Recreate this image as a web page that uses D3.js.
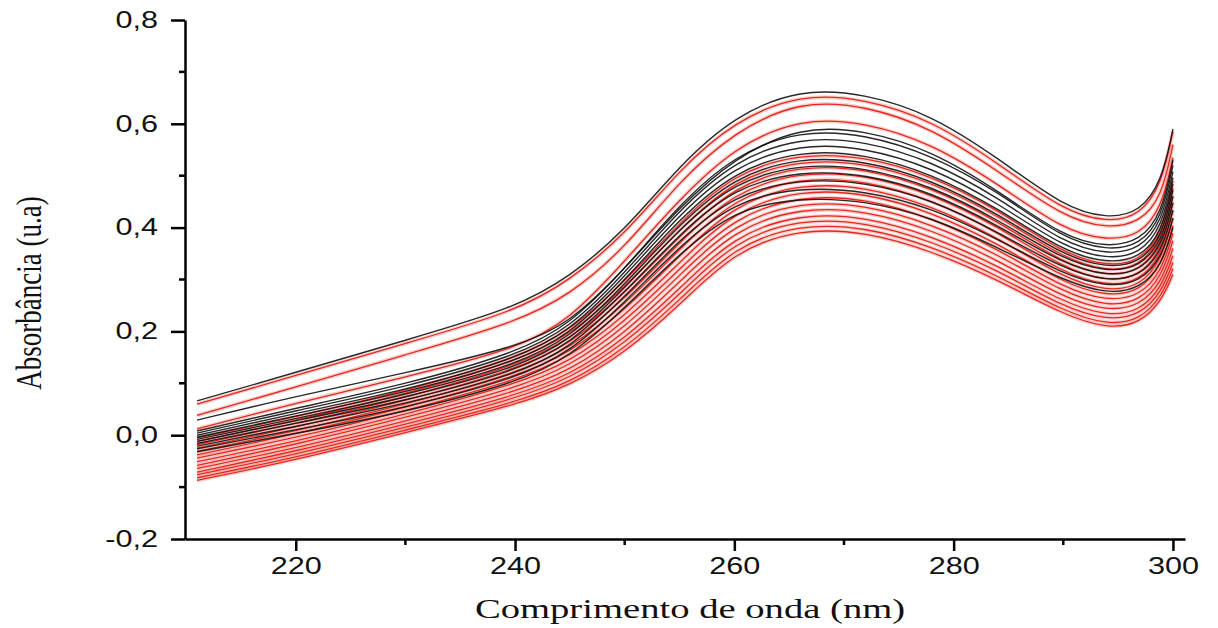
<!DOCTYPE html>
<html>
<head>
<meta charset="utf-8">
<script src="https://cdn.jsdelivr.net/npm/d3@7"></script>
<style>
  body { margin: 0; background: #fff; }
  svg { display: block; }
</style>
</head>
<body>
<div id="chart"></div>
<script>
const wavelengths = [211, 220, 230, 240, 245, 250, 255, 260, 266, 272, 278, 284, 290, 294, 297, 299, 300];

// the few spectra that sit above the main bundle
const upperBlack = [
  [0.066, 0.121, 0.183, 0.245, 0.305, 0.394, 0.520, 0.615, 0.668, 0.658, 0.617, 0.535, 0.440, 0.417, 0.430, 0.490, 0.590],
  [0.029, 0.075, 0.120, 0.169, 0.215, 0.320, 0.440, 0.535, 0.595, 0.588, 0.548, 0.472, 0.382, 0.362, 0.374, 0.428, 0.530]
];
const upperRed = [
  [0.060, 0.115, 0.177, 0.238, 0.298, 0.386, 0.512, 0.605, 0.658, 0.648, 0.607, 0.525, 0.432, 0.410, 0.423, 0.485, 0.585],
  [0.038, 0.093, 0.155, 0.217, 0.270, 0.360, 0.490, 0.585, 0.645, 0.635, 0.592, 0.510, 0.420, 0.398, 0.410, 0.460, 0.560],
  [0.012, 0.062, 0.112, 0.165, 0.222, 0.335, 0.455, 0.555, 0.611, 0.603, 0.562, 0.485, 0.395, 0.375, 0.385, 0.440, 0.535]
];

// main bundle, black spectra
const blackSpectra = [
  [0.008, 0.052, 0.098, 0.158, 0.212, 0.320, 0.445, 0.540, 0.588, 0.580, 0.540, 0.470, 0.378, 0.356, 0.366, 0.420, 0.520],
  [0.004, 0.047, 0.093, 0.152, 0.206, 0.312, 0.435, 0.529, 0.575, 0.567, 0.528, 0.459, 0.370, 0.348, 0.358, 0.411, 0.508],
  [0.000, 0.042, 0.087, 0.146, 0.200, 0.305, 0.426, 0.519, 0.562, 0.554, 0.516, 0.448, 0.362, 0.339, 0.349, 0.402, 0.496],
  [-0.004, 0.037, 0.082, 0.141, 0.193, 0.298, 0.417, 0.509, 0.549, 0.542, 0.504, 0.438, 0.354, 0.331, 0.341, 0.392, 0.484],
  [-0.008, 0.032, 0.077, 0.135, 0.187, 0.290, 0.407, 0.498, 0.536, 0.529, 0.492, 0.427, 0.346, 0.322, 0.332, 0.383, 0.472],
  [-0.012, 0.028, 0.072, 0.129, 0.181, 0.283, 0.398, 0.488, 0.523, 0.516, 0.480, 0.416, 0.338, 0.314, 0.324, 0.374, 0.460],
  [-0.016, 0.023, 0.066, 0.123, 0.175, 0.275, 0.388, 0.477, 0.510, 0.503, 0.468, 0.405, 0.330, 0.306, 0.316, 0.365, 0.448],
  [-0.021, 0.017, 0.060, 0.116, 0.167, 0.266, 0.377, 0.464, 0.494, 0.488, 0.454, 0.392, 0.320, 0.296, 0.306, 0.354, 0.434],
  [-0.026, 0.010, 0.053, 0.109, 0.159, 0.256, 0.364, 0.451, 0.478, 0.471, 0.438, 0.378, 0.310, 0.285, 0.295, 0.342, 0.418],
  [-0.032, 0.003, 0.045, 0.100, 0.150, 0.245, 0.350, 0.435, 0.458, 0.452, 0.420, 0.362, 0.298, 0.272, 0.282, 0.328, 0.400]
];

// main bundle, red spectra
const redSpectra = [
  [-0.005, 0.035, 0.085, 0.148, 0.200, 0.295, 0.410, 0.505, 0.543, 0.537, 0.500, 0.435, 0.350, 0.325, 0.335, 0.390, 0.490],
  [-0.012, 0.028, 0.079, 0.141, 0.192, 0.284, 0.397, 0.493, 0.531, 0.525, 0.488, 0.424, 0.341, 0.315, 0.325, 0.380, 0.476],
  [-0.018, 0.022, 0.072, 0.134, 0.183, 0.273, 0.384, 0.481, 0.520, 0.514, 0.477, 0.413, 0.331, 0.306, 0.316, 0.369, 0.461],
  [-0.025, 0.015, 0.066, 0.126, 0.175, 0.262, 0.372, 0.469, 0.508, 0.502, 0.465, 0.403, 0.322, 0.296, 0.306, 0.359, 0.447],
  [-0.031, 0.008, 0.059, 0.119, 0.166, 0.251, 0.359, 0.457, 0.497, 0.491, 0.454, 0.392, 0.312, 0.287, 0.297, 0.348, 0.432],
  [-0.038, 0.002, 0.053, 0.112, 0.158, 0.240, 0.346, 0.445, 0.485, 0.479, 0.442, 0.381, 0.303, 0.277, 0.287, 0.338, 0.418],
  [-0.044, -0.005, 0.047, 0.105, 0.150, 0.229, 0.333, 0.433, 0.473, 0.467, 0.430, 0.370, 0.293, 0.267, 0.277, 0.328, 0.404],
  [-0.051, -0.012, 0.040, 0.098, 0.141, 0.218, 0.320, 0.421, 0.462, 0.456, 0.419, 0.359, 0.284, 0.258, 0.268, 0.317, 0.389],
  [-0.058, -0.018, 0.034, 0.090, 0.133, 0.207, 0.308, 0.409, 0.450, 0.444, 0.407, 0.349, 0.275, 0.248, 0.258, 0.307, 0.375],
  [-0.064, -0.025, 0.027, 0.083, 0.124, 0.196, 0.295, 0.397, 0.439, 0.433, 0.396, 0.338, 0.265, 0.239, 0.249, 0.296, 0.360],
  [-0.071, -0.031, 0.021, 0.076, 0.116, 0.185, 0.282, 0.385, 0.427, 0.421, 0.384, 0.327, 0.256, 0.229, 0.239, 0.286, 0.346],
  [-0.076, -0.037, 0.015, 0.070, 0.109, 0.176, 0.271, 0.375, 0.417, 0.411, 0.374, 0.318, 0.247, 0.221, 0.231, 0.277, 0.333],
  [-0.082, -0.043, 0.010, 0.063, 0.101, 0.166, 0.260, 0.364, 0.407, 0.401, 0.364, 0.308, 0.239, 0.212, 0.222, 0.268, 0.321],
  [-0.087, -0.048, 0.005, 0.058, 0.095, 0.158, 0.250, 0.355, 0.398, 0.392, 0.355, 0.300, 0.232, 0.205, 0.215, 0.260, 0.310]
];

const xMajorTicks = [220, 240, 260, 280, 300];
const xMinorTicks = [230, 250, 270, 290];
const yMajorTicks = [-0.2, 0.0, 0.2, 0.4, 0.6, 0.8];
const yMinorTicks = [-0.1, 0.1, 0.3, 0.5, 0.7];
const xTitle = 'Comprimento de onda (nm)';
const yTitle = 'Absorbância (u.a)';

const width = 1218, height = 628;
const stretch = 1.33; // the source picture is stretched sideways, text too
const red = '#e5281f', black = '#111';

let svg = d3.select('#chart').append('svg')
  .attr('width', width)
  .attr('height', height);

let x = d3.scaleLinear().domain([209.9, 301.1]).range([185, 1185]);
let y = d3.scaleLinear().domain([-0.2, 0.8]).range([539, 20]);

let line = d3.line()
  .x((d, i) => x(wavelengths[i]))
  .y(d => y(d))
  .curve(d3.curveBasis);

let plot = svg.append('g').classed('spectra', true);

// red spectra get a soft halo like the blurred original
function drawRed(data) {
  plot.append('g').selectAll('path')
    .data(data)
    .join('path')
    .attr('d', line)
    .attr('fill', 'none')
    .attr('stroke', red)
    .attr('stroke-opacity', 0.22)
    .attr('stroke-width', 4);
  plot.append('g').selectAll('path')
    .data(data)
    .join('path')
    .attr('d', line)
    .attr('fill', 'none')
    .attr('stroke', red)
    .attr('stroke-width', 1.3);
}

function drawBlack(data) {
  plot.append('g').selectAll('path')
    .data(data)
    .join('path')
    .attr('d', line)
    .attr('fill', 'none')
    .attr('stroke', black)
    .attr('stroke-opacity', 0.9)
    .attr('stroke-width', 1.4);
}

drawRed(redSpectra);
drawBlack(blackSpectra);
drawRed(upperRed);
drawBlack(upperBlack);

// axes
const fmt = d => d.toFixed(1).replace('.', ',');

let xAxis = svg.append('g')
  .attr('transform', `translate(0,${y(-0.2)})`)
  .call(d3.axisBottom(x).tickValues(xMajorTicks).tickSize(12).tickPadding(7).tickSizeOuter(0));
xAxis.append('g')
  .selectAll('line')
  .data(xMinorTicks)
  .join('line')
  .attr('x1', d => x(d)).attr('x2', d => x(d))
  .attr('y1', 0).attr('y2', 6)
  .attr('stroke', '#000').attr('stroke-width', 2.5);

let yAxis = svg.append('g')
  .attr('transform', `translate(${x(209.9)},0)`)
  .call(d3.axisLeft(y).tickValues(yMajorTicks).tickFormat(fmt).tickSize(14).tickPadding(13).tickSizeOuter(0));
yAxis.append('g')
  .selectAll('line')
  .data(yMinorTicks)
  .join('line')
  .attr('y1', d => y(d)).attr('y2', d => y(d))
  .attr('x1', 0).attr('x2', -6)
  .attr('stroke', '#000').attr('stroke-width', 2.5);

svg.selectAll('.domain').attr('stroke', '#000').attr('stroke-width', 2.5);
svg.selectAll('.tick line').attr('stroke', '#000').attr('stroke-width', 2.5);
svg.selectAll('.tick text')
  .attr('fill', '#111')
  .style('font-family', '"Liberation Sans", Arial, sans-serif')
  .style('font-size', '23px')
  .each(function () {
    let w = this.getComputedTextLength();
    d3.select(this)
      .attr('textLength', w * stretch)
      .attr('lengthAdjust', 'spacingAndGlyphs');
  });

// titles
svg.append('text')
  .attr('transform', `translate(690,618) scale(${stretch + 0.05},1)`)
  .attr('text-anchor', 'middle')
  .style('font-family', '"Liberation Serif", "Times New Roman", serif')
  .style('font-size', '28px')
  .attr('fill', '#111')
  .text(xTitle);

svg.append('text')
  .attr('transform', `translate(41,293) rotate(-90) scale(1,${stretch})`)
  .attr('text-anchor', 'middle')
  .style('font-family', '"Liberation Serif", "Times New Roman", serif')
  .style('font-size', '27px')
  .attr('fill', '#111')
  .text(yTitle);
</script>
</body>
</html>
